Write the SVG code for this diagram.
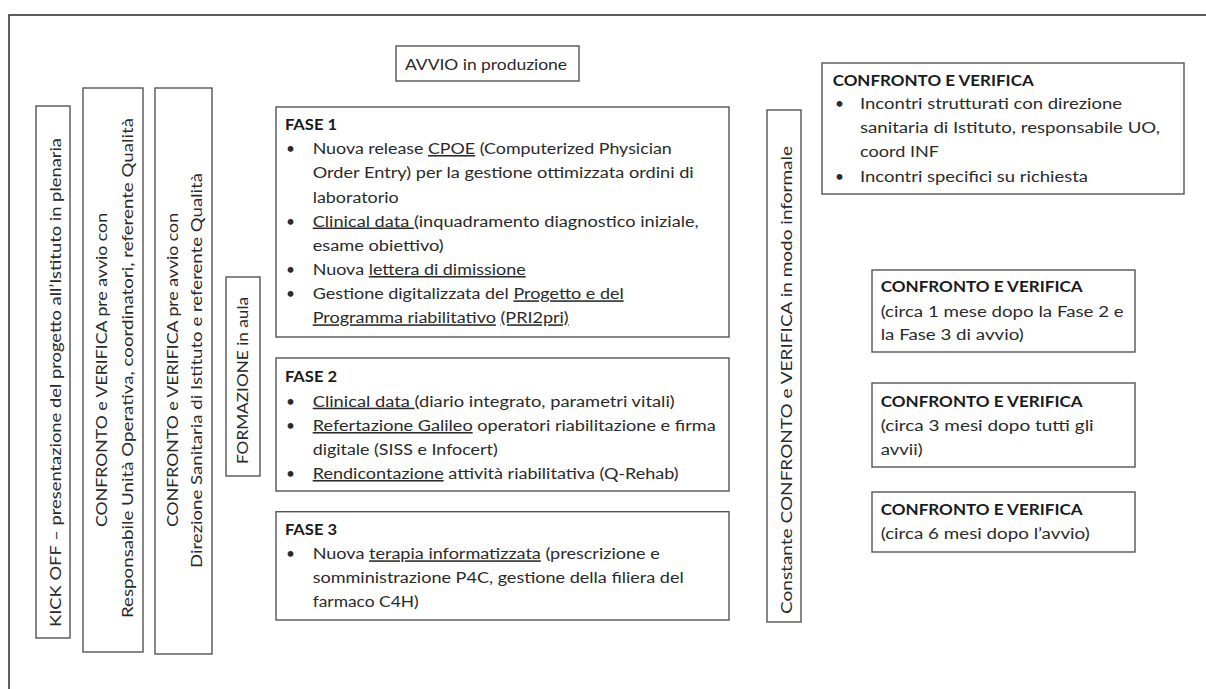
<svg xmlns="http://www.w3.org/2000/svg" width="1206" height="689" viewBox="0 0 1206 689">
<style>
.box{fill:#fff;stroke:#555;stroke-width:1.4}
.frame{fill:#fff;stroke:#2a2a2a;stroke-width:1.5}
text{font-family:Lato,"Liberation Sans",Arial,sans-serif;font-size:15.5px;fill:#2a2a2a}
.b{font-weight:bold;fill:#1a1a1a}
.u{text-decoration:underline}
</style>
<rect width="1206" height="689" fill="#fff"/>
<rect class="frame" x="9" y="15" width="1300" height="800"/>

<g id="kickoff">
<rect class="box" x="36" y="106" width="34" height="532"/>
<text transform="translate(61,627) rotate(-90)" textLength="489" lengthAdjust="spacingAndGlyphs">KICK OFF – presentazione del progetto all’Istituto in plenaria</text>
</g>
<g id="confronto-uo">
<rect class="box" x="83" y="88" width="60" height="564"/>
<text transform="translate(107,527) rotate(-90)" textLength="314" lengthAdjust="spacingAndGlyphs">CONFRONTO e VERIFICA pre avvio con</text>
<text transform="translate(132.5,618) rotate(-90)" textLength="500" lengthAdjust="spacingAndGlyphs">Responsabile  Unità Operativa, coordinatori, referente  Qualità</text>
</g>
<g id="confronto-ds">
<rect class="box" x="155" y="88" width="57" height="566"/>
<text transform="translate(178,527) rotate(-90)" textLength="314" lengthAdjust="spacingAndGlyphs">CONFRONTO e VERIFICA pre avvio con</text>
<text transform="translate(201.5,568) rotate(-90)" textLength="395" lengthAdjust="spacingAndGlyphs">Direzione Sanitaria di Istituto e referente  Qualità</text>
</g>
<g id="formazione">
<rect class="box" x="226" y="277" width="34" height="199"/>
<text transform="translate(248,464) rotate(-90)" textLength="167" lengthAdjust="spacingAndGlyphs">FORMAZIONE in aula</text>
</g>

<g id="avvio">
<rect class="box" x="396" y="46" width="183" height="35"/>
<text x="405" y="70" textLength="162" lengthAdjust="spacingAndGlyphs">AVVIO in produzione</text>
</g>

<g id="fase1">
<rect class="box" x="276" y="107" width="453" height="230"/>
<text class="b" x="285" y="130" textLength="52" lengthAdjust="spacingAndGlyphs">FASE 1</text>
<text x="286" y="154">•</text>
<text x="312.7" y="154" textLength="359" lengthAdjust="spacingAndGlyphs">Nuova release <tspan class="u">CPOE</tspan> (Computerized  Physician</text>
<text x="312.7" y="178.3" textLength="381" lengthAdjust="spacingAndGlyphs">Order  Entry) per la gestione ottimizzata ordini di</text>
<text x="312.7" y="202.5" textLength="86" lengthAdjust="spacingAndGlyphs">laboratorio</text>
<text x="286" y="226.5">•</text>
<text x="312.7" y="226.5" textLength="386" lengthAdjust="spacingAndGlyphs"><tspan class="u">Clinical data </tspan>(inquadramento diagnostico iniziale,</text>
<text x="312.7" y="250.7" textLength="131" lengthAdjust="spacingAndGlyphs">esame obiettivo)</text>
<text x="286" y="275">•</text>
<text x="312.7" y="275" textLength="213" lengthAdjust="spacingAndGlyphs">Nuova <tspan class="u">lettera di dimissione</tspan></text>
<text x="286" y="299.3">•</text>
<text x="312.7" y="299.3" textLength="311" lengthAdjust="spacingAndGlyphs">Gestione digitalizzata del <tspan class="u">Progetto e del</tspan></text>
<text x="312.7" y="323.3" textLength="256" lengthAdjust="spacingAndGlyphs"><tspan class="u">Programma riabilitativo</tspan> <tspan class="u">(PRI2pri)</tspan></text>
</g>

<g id="fase2">
<rect class="box" x="276" y="358" width="453" height="133"/>
<text class="b" x="285" y="381.7" textLength="52" lengthAdjust="spacingAndGlyphs">FASE 2</text>
<text x="286" y="406.7">•</text>
<text x="312.7" y="406.7" textLength="362" lengthAdjust="spacingAndGlyphs"><tspan class="u">Clinical data </tspan>(diario integrato, parametri  vitali)</text>
<text x="286" y="431">•</text>
<text x="312.7" y="431" textLength="403" lengthAdjust="spacingAndGlyphs"><tspan class="u">Refertazione  Galileo</tspan> operatori  riabilitazione  e firma</text>
<text x="312.7" y="455" textLength="185" lengthAdjust="spacingAndGlyphs">digitale (SISS e  Infocert)</text>
<text x="286" y="479">•</text>
<text x="312.7" y="479" textLength="366" lengthAdjust="spacingAndGlyphs"><tspan class="u">Rendicontazione</tspan>  attività riabilitativa (Q-Rehab)</text>
</g>

<g id="fase3">
<rect class="box" x="276" y="511.7" width="453" height="108.3"/>
<text class="b" x="285" y="535" textLength="52" lengthAdjust="spacingAndGlyphs">FASE 3</text>
<text x="286" y="559.3">•</text>
<text x="312.7" y="559.3" textLength="347" lengthAdjust="spacingAndGlyphs">Nuova <tspan class="u">terapia informatizzata</tspan> (prescrizione  e</text>
<text x="312.7" y="583.3" textLength="371" lengthAdjust="spacingAndGlyphs">somministrazione  P4C, gestione della filiera del</text>
<text x="312.7" y="607.3" textLength="106" lengthAdjust="spacingAndGlyphs">farmaco C4H)</text>
</g>

<g id="constante">
<rect class="box" x="767" y="110" width="34" height="512"/>
<text transform="translate(791.5,614) rotate(-90)" textLength="468" lengthAdjust="spacingAndGlyphs">Constante CONFRONTO  e VERIFICA  in modo informale</text>
</g>

<g id="verifica-incontri">
<rect class="box" x="822" y="63" width="362" height="131"/>
<text class="b" x="832.7" y="85.7" textLength="201" lengthAdjust="spacingAndGlyphs">CONFRONTO E VERIFICA</text>
<text x="835" y="109.3">•</text>
<text x="860" y="109.3" textLength="262" lengthAdjust="spacingAndGlyphs">Incontri strutturati con direzione</text>
<text x="860" y="133.3" textLength="300" lengthAdjust="spacingAndGlyphs">sanitaria di Istituto, responsabile UO,</text>
<text x="860" y="157.3" textLength="79" lengthAdjust="spacingAndGlyphs">coord INF</text>
<text x="835" y="181.7">•</text>
<text x="860" y="181.7" textLength="228" lengthAdjust="spacingAndGlyphs">Incontri specifici su richiesta</text>
</g>

<g id="verifica-1mese">
<rect class="box" x="872" y="270" width="263" height="82"/>
<text class="b" x="880.7" y="291.7" textLength="202" lengthAdjust="spacingAndGlyphs">CONFRONTO E VERIFICA</text>
<text x="880.7" y="316.7" textLength="243" lengthAdjust="spacingAndGlyphs">(circa 1 mese  dopo la Fase 2 e</text>
<text x="880.7" y="340" textLength="143" lengthAdjust="spacingAndGlyphs">la Fase 3 di avvio)</text>
</g>
<g id="verifica-3mesi">
<rect class="box" x="872" y="383" width="263" height="84"/>
<text class="b" x="880.7" y="406.7" textLength="202" lengthAdjust="spacingAndGlyphs">CONFRONTO E VERIFICA</text>
<text x="880.7" y="431" textLength="213" lengthAdjust="spacingAndGlyphs">(circa 3 mesi dopo tutti gli</text>
<text x="880.7" y="455" textLength="42" lengthAdjust="spacingAndGlyphs">avvii)</text>
</g>
<g id="verifica-6mesi">
<rect class="box" x="872" y="492" width="263" height="60"/>
<text class="b" x="880.7" y="515" textLength="202" lengthAdjust="spacingAndGlyphs">CONFRONTO E VERIFICA</text>
<text x="880.7" y="539.3" textLength="209" lengthAdjust="spacingAndGlyphs">(circa 6 mesi dopo l’avvio)</text>
</g>
<g id="connectors"></g>
</svg>
